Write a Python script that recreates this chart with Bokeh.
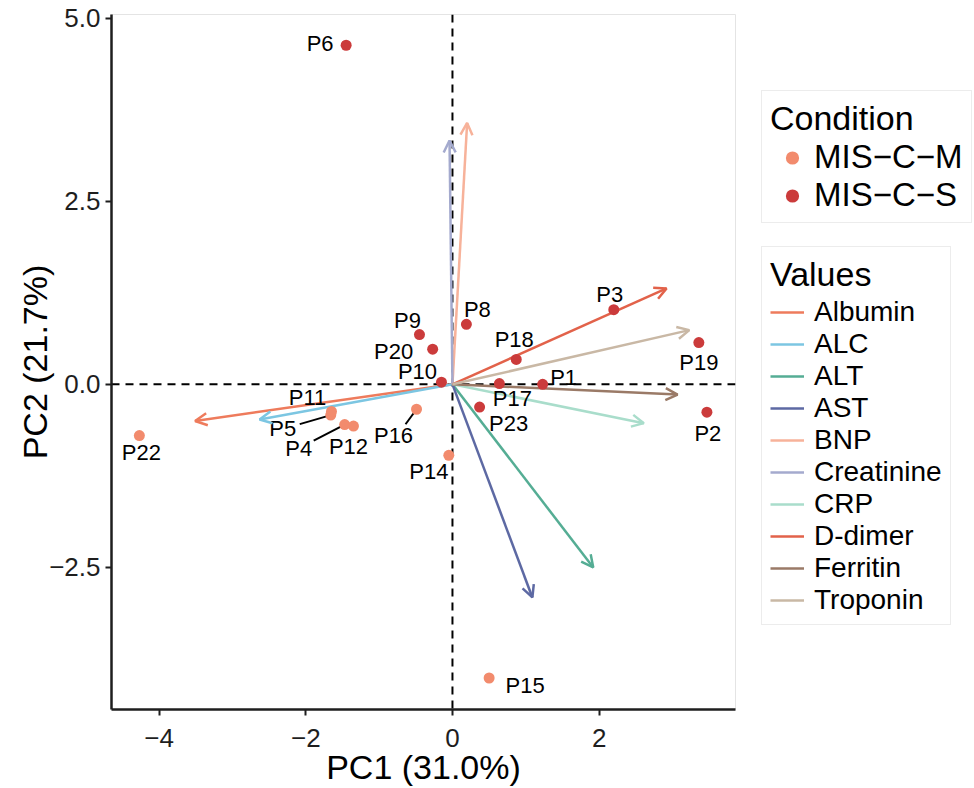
from bokeh.plotting import figure
from bokeh.layouts import row
from bokeh.models import (ColumnDataSource, Range1d, Span, Arrow, OpenHead,
                          Legend, LegendItem, FixedTicker)
from bokeh.embed import file_html
from bokeh.resources import INLINE
from bokeh.core.properties import value

# ---------------- data ----------------
samples = ["P1", "P2", "P3", "P4", "P5", "P6", "P8", "P9", "P10", "P11", "P12",
           "P14", "P15", "P16", "P17", "P18", "P19", "P20", "P22", "P23"]
pc1 = [1.23, 3.47, 2.20, -1.47, -1.66, -1.45, 0.19, -0.45, -0.15, -1.65, -1.35,
       -0.05, 0.50, -0.49, 0.64, 0.87, 3.36, -0.27, -4.27, 0.37]
pc2 = [0.00, -0.38, 1.02, -0.55, -0.42, 4.63, 0.82, 0.68, 0.03, -0.37, -0.57,
       -0.97, -4.01, -0.34, 0.01, 0.34, 0.57, 0.48, -0.70, -0.31]
condition = ["MIS−C−S", "MIS−C−S", "MIS−C−S", "MIS−C−M", "MIS−C−M", "MIS−C−S",
             "MIS−C−S", "MIS−C−S", "MIS−C−S", "MIS−C−M", "MIS−C−M", "MIS−C−M",
             "MIS−C−M", "MIS−C−M", "MIS−C−S", "MIS−C−S", "MIS−C−S", "MIS−C−S",
             "MIS−C−M", "MIS−C−S"]
conditions = ["MIS−C−M", "MIS−C−S"]

variables = ["Albumin", "ALC", "ALT", "AST", "BNP", "Creatinine", "CRP",
             "D-dimer", "Ferritin", "Troponin"]
load_pc1 = [-3.51, -2.63, 1.92, 1.09, 0.20, -0.04, 2.61, 2.92, 3.07, 3.23]
load_pc2 = [-0.50, -0.48, -2.50, -2.91, 3.57, 3.33, -0.53, 1.31, -0.14, 0.74]

x_ticks = [-4, -2, 0, 2]
y_ticks = [-2.5, 0, 2.5, 5]
x_tick_labels = ["−4", "−2", "0", "2"]
y_tick_labels = ["−2.5", "0.0", "2.5", "5.0"]
x_title = "PC1 (31.0%)"
y_title = "PC2 (21.7%)"

# ---------------- style ----------------
FONT = "Liberation Sans"
cond_colors = {"MIS−C−M": "#F28B6D", "MIS−C−S": "#CB3B3B"}
var_colors = ["#EE7B5C", "#7CC6E2", "#55AD94", "#5D69A3", "#F7B29A",
              "#A4AACE", "#A9DDCB", "#E2624A", "#9A7A67", "#C9B8A5"]
# label offsets in screen pixels (x right, y down)
lab_dx = {"P1": 21, "P2": 1, "P3": -4, "P4": -46, "P5": -48, "P6": -26, "P8": 11,
          "P9": -12, "P10": -24, "P11": -24, "P12": -5, "P14": -20, "P15": 36,
          "P16": -23, "P17": 13, "P18": -2, "P19": 0, "P20": -39, "P22": 2, "P23": 29}
lab_dy = {"P1": -7, "P2": 21, "P3": -15, "P4": 24, "P5": 13, "P6": -2, "P8": -15,
          "P9": -14, "P10": -11, "P11": -14, "P12": 20, "P14": 16, "P15": 7,
          "P16": 26, "P17": 15, "P18": -20, "P19": 20, "P20": 2, "P22": 17, "P23": 16}
# leader lines (pixel vector from point)
leaders = {"P5": (-31, 9), "P4": (-31, 16), "P16": (-11, 15)}

X0, X1 = -4.65, 3.86
Y0, Y1 = -4.44, 5.05
FRAME_W, FRAME_H = 624, 695
MAIN_W = 736
LEG_W = 974 - MAIN_W
H = 788
FRAME_BOTTOM = 709

p = figure(width=MAIN_W, height=H, x_range=Range1d(X0, X1), y_range=Range1d(Y0, Y1),
           output_backend="svg", toolbar_location=None,
           min_border_left=111, min_border_right=1, min_border_top=14,
           min_border_bottom=79)
p.background_fill_color = "white"
p.border_fill_color = "white"
p.outline_line_color = "#E4E4E4"
p.outline_line_width = 1
p.xgrid.visible = False
p.ygrid.visible = False

# zero lines
for dim in ("width", "height"):
    p.add_layout(Span(location=0, dimension=dim, line_color="black",
                      line_width=2, line_dash="8 6", level="underlay"))

# loading arrows (shaft as segment, head as annotation)
for name, lx, ly, col in zip(variables, load_pc1, load_pc2, var_colors):
    src = ColumnDataSource(dict(x0=[0], y0=[0], x1=[lx], y1=[ly]))
    p.segment("x0", "y0", "x1", "y1", source=src, line_color=col, line_width=2.5)
    p.add_layout(Arrow(end=OpenHead(size=12, line_color=col, line_width=2.5),
                       x_start="x0", y_start="y0", x_end="x1", y_end="y1",
                       source=src, line_alpha=0, line_width=0))

# leader lines
sx = FRAME_W / (X1 - X0)
sy = FRAME_H / (Y1 - Y0)
lx0, ly0, lx1, ly1 = [], [], [], []
for s, x, y in zip(samples, pc1, pc2):
    if s in leaders:
        dx, dy = leaders[s]
        lx0.append(x); ly0.append(y)
        lx1.append(x + dx / sx); ly1.append(y - dy / sy)
p.segment(lx0, ly0, lx1, ly1, line_color="black", line_width=2)

# points
for c in conditions:
    xs = [x for x, k in zip(pc1, condition) if k == c]
    ys = [y for y, k in zip(pc2, condition) if k == c]
    p.scatter(xs, ys, size=11, fill_color=cond_colors[c], line_color=None)

# labels
p.text(x=pc1, y=pc2, text=samples,
       x_offset=[lab_dx[s] for s in samples], y_offset=[lab_dy[s] for s in samples],
       text_align="center", text_baseline="middle", text_font=value(FONT),
       text_font_size="22px", text_color="black")

# axes
for ax, ticks, labels, title in ((p.xaxis[0], x_ticks, x_tick_labels, x_title),
                                 (p.yaxis[0], y_ticks, y_tick_labels, y_title)):
    ax.ticker = FixedTicker(ticks=ticks)
    ax.major_label_overrides = {t: l for t, l in zip(ticks, labels)}
    ax.axis_label = title
    ax.axis_line_width = 2.5
    ax.axis_line_color = "#1E1E1E"
    ax.major_tick_line_width = 2
    ax.major_tick_line_color = "#1E1E1E"
    ax.major_tick_out = 6
    ax.major_tick_in = 0
    ax.minor_tick_line_color = None
    ax.major_label_text_font = FONT
    ax.major_label_text_font_size = "26px"
    ax.major_label_text_color = "#1E1E1E"
    ax.axis_label_text_font = FONT
    ax.axis_label_text_font_size = "34px"
    ax.axis_label_text_font_style = "normal"
    ax.axis_label_text_color = "black"
p.xaxis[0].major_label_standoff = 13
p.xaxis[0].axis_label_standoff = -2
p.yaxis[0].major_label_standoff = 5
p.yaxis[0].axis_label_standoff = -8

# ---------------- legend panel ----------------
lg = figure(width=LEG_W, height=H, x_range=Range1d(0, 1), y_range=Range1d(0, 1),
            output_backend="svg", toolbar_location=None,
            x_axis_type=None, y_axis_type=None, min_border=0)
lg.outline_line_color = None
lg.xgrid.visible = False
lg.ygrid.visible = False
lg.background_fill_color = "white"
lg.border_fill_color = "white"

# hidden copies of the series, used only as legend keys
cond_items = []
for c in conditions:
    xs = [x for x, k in zip(pc1, condition) if k == c]
    ys = [y for y, k in zip(pc2, condition) if k == c]
    r = lg.scatter(xs, ys, size=11, fill_color=cond_colors[c], line_color=None,
                   visible=False)
    cond_items.append(LegendItem(label=c, renderers=[r]))
var_items = []
for name, lx, ly, col in zip(variables, load_pc1, load_pc2, var_colors):
    r = lg.segment([0], [0], [lx], [ly], line_color=col, line_width=2.5, visible=False)
    var_items.append(LegendItem(label=name, renderers=[r]))


def style_legend(leg, title_size, label_size, item_h, glyph_w, standoff, spacing,
                 title_standoff):
    leg.title_text_font = FONT
    leg.title_text_font_size = title_size
    leg.title_text_font_style = "normal"
    leg.title_text_color = "black"
    leg.title_standoff = title_standoff
    leg.label_text_font = FONT
    leg.label_text_font_size = label_size
    leg.label_text_color = "black"
    leg.label_height = item_h
    leg.glyph_height = item_h
    leg.glyph_width = glyph_w
    leg.label_standoff = standoff
    leg.spacing = spacing
    leg.padding = 8
    leg.margin = 0
    leg.border_line_color = "#DADADA"
    leg.border_line_width = 1
    leg.background_fill_color = "white"
    leg.background_fill_alpha = 1
    leg.click_policy = "none"


LEG_X = 761 - MAIN_W
leg_c = Legend(items=cond_items, title="Condition",
               location=(LEG_X, FRAME_BOTTOM - 223))
style_legend(leg_c, "34px", "33px", 33, 44, 0, -6, -5)
leg_v = Legend(items=var_items, title="Values",
               location=(LEG_X, FRAME_BOTTOM - 625))
style_legend(leg_v, "34px", "28px", 32, 34, 10, 0, 2)
lg.add_layout(leg_c)
lg.add_layout(leg_v)

layout = row(p, lg, spacing=0)
open("out.html", "w").write(file_html(layout, INLINE))
